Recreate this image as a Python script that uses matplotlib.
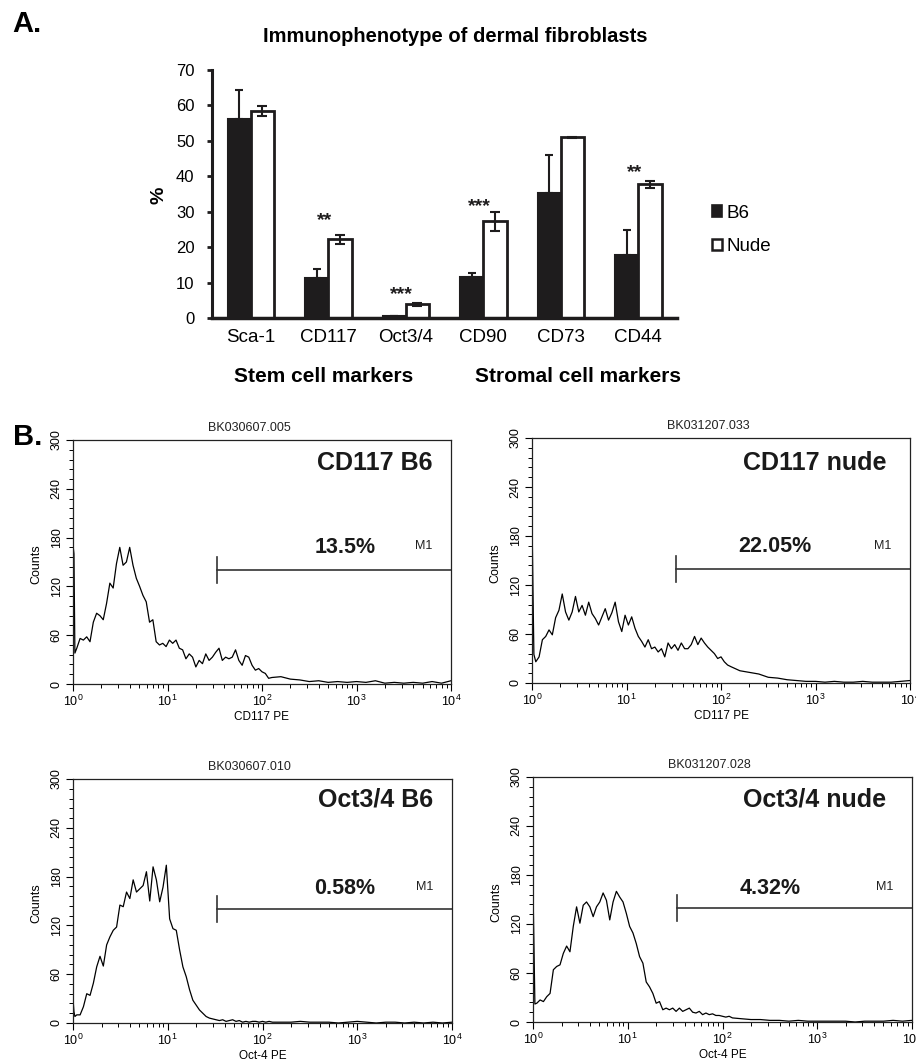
import numpy as np
import matplotlib
matplotlib.use("Agg")
import matplotlib.pyplot as plt
from matplotlib.patches import Patch
from matplotlib.ticker import MultipleLocator, LogLocator, NullFormatter

plt.rcParams["font.family"] = ["Liberation Sans", "DejaVu Sans"]
plt.rcParams["mathtext.default"] = "regular"

# ── A. IMMUNOPHENOTYPE BAR DATA ───────────────────────────────────────────────
markers = ["Sca-1", "CD117", "Oct3/4", "CD90", "CD73", "CD44"]
b6_mean = [56.1, 11.3, 0.5, 11.5, 35.2, 17.7]
b6_err = [8.2, 2.4, 0.1, 1.2, 10.8, 7.1]
nude_mean = [58.4, 22.2, 3.9, 27.3, 51.0, 37.7]
nude_err = [1.5, 1.3, 0.4, 2.7, 0.1, 1.1]
sig_idx = [1, 2, 3, 5]
sig_text = ["**", "***", "***", "**"]
sig_y = [29.3, 8.6, 33.2, 43.0]

# ── B. FLOW HISTOGRAMS (log10 channel, counts) ────────────────────────────────
log_channel = [0.0, 0.01, 0.02,
               0.04, 0.075, 0.11, 0.145, 0.18, 0.215, 0.25, 0.285, 0.32, 0.355,
               0.39, 0.425, 0.46, 0.495, 0.53, 0.565, 0.60, 0.635, 0.67, 0.705,
               0.74, 0.775, 0.81, 0.845, 0.88, 0.915, 0.95, 0.985, 1.02, 1.055,
               1.09, 1.125, 1.16, 1.195, 1.23, 1.265, 1.30, 1.335, 1.37, 1.405,
               1.44, 1.475, 1.51, 1.545, 1.58, 1.615, 1.65, 1.685, 1.72, 1.755,
               1.79, 1.825, 1.86, 1.895, 1.93, 1.965, 2.00, 2.035, 2.07, 2.105,
               2.2, 2.3, 2.4, 2.5, 2.6, 2.7, 2.8, 2.9, 3.0, 3.1,
               3.2, 3.3, 3.4, 3.5, 3.6, 3.7, 3.8, 3.9, 4.0]

cd117_b6 = [171, 160, 38,
            44, 56, 54, 58, 52, 76, 87, 84, 79, 99,
            124, 118, 148, 168, 146, 150, 168, 146, 130, 120,
            109, 101, 76, 79, 52, 48, 50, 46, 54, 50,
            54, 44, 42, 31, 37, 33, 21, 29, 25, 37,
            29, 33, 39, 44, 29, 33, 31, 33, 42, 29,
            23, 35, 33, 23, 17, 19, 15, 13, 7, 8,
            9, 6, 5, 3, 4, 2, 3, 2, 3, 2,
            4, 1, 2, 1, 2, 1, 3, 1, 4]

cd117_nude = [204, 116, 35,
              26, 32, 53, 57, 65, 59, 80, 89, 109, 87,
              77, 87, 106, 87, 95, 83, 99, 85, 79, 71,
              81, 91, 77, 86, 99, 75, 63, 83, 71, 81,
              67, 57, 51, 44, 53, 42, 44, 38, 42, 32,
              49, 42, 47, 40, 49, 42, 42, 47, 57, 47,
              55, 49, 44, 40, 36, 30, 32, 26, 22, 20,
              15, 13, 11, 7, 6, 4, 3, 2, 2, 1,
              2, 1, 1, 2, 1, 1, 1, 2, 3]

oct_b6 = [30, 14, 8,
          10, 10, 20, 36, 34, 49, 69, 82, 70, 96,
          106, 114, 118, 145, 143, 161, 153, 176, 161, 165,
          169, 186, 150, 192, 176, 149, 167, 194, 128, 116,
          114, 90, 69, 57, 41, 28, 22, 16, 12, 8,
          6, 5, 4, 3, 4, 2, 3, 4, 2, 3,
          1, 2, 1, 2, 2, 1, 2, 1, 2, 1,
          1, 1, 2, 1, 1, 1, 0, 1, 2, 1,
          0, 1, 1, 0, 1, 0, 1, 0, 1]

oct_nude = [164, 94, 22,
            23, 27, 25, 31, 35, 64, 68, 70, 84, 93,
            86, 117, 141, 121, 143, 147, 141, 129, 141, 147,
            158, 149, 125, 147, 160, 153, 147, 133, 117, 109,
            96, 80, 72, 49, 43, 35, 23, 25, 15, 17,
            15, 17, 13, 17, 13, 15, 17, 12, 11, 13,
            9, 11, 9, 10, 8, 8, 7, 6, 7, 5,
            4, 3, 3, 2, 2, 1, 2, 1, 1, 1,
            1, 1, 0, 1, 1, 1, 2, 1, 2]

hist_counts = [cd117_b6, cd117_nude, oct_b6, oct_nude]
file_ids = ["BK030607.005", "BK031207.033", "BK030607.010", "BK031207.028"]
sample_names = ["CD117 B6", "CD117 nude", "Oct3/4 B6", "Oct3/4 nude"]
gate_pct = ["13.5%", "22.05%", "0.58%", "4.32%"]
channel_names = ["CD117 PE", "CD117 PE", "Oct-4 PE", "Oct-4 PE"]
gate_log = 1.52
gate_count = 140

# ── LAYOUT ────────────────────────────────────────────────────────────────────
W, H = 916, 1064
fig = plt.figure(figsize=(W / 100, H / 100), dpi=100)


def px_axes(x0, y0, x1, y1):
    return fig.add_axes([x0 / W, 1 - y1 / H, (x1 - x0) / W, (y1 - y0) / H])


INK = "#1e1c1d"

# ── PANEL A ───────────────────────────────────────────────────────────────────
axA = px_axes(212, 70, 677, 318)
x = np.arange(len(markers))
w = 0.30
axA.bar(x - w / 2, b6_mean, w, color=INK, edgecolor=INK, lw=1.5, zorder=2)
axA.bar(x + w / 2, nude_mean, w, color="white", edgecolor=INK, lw=2.0, zorder=2)
axA.errorbar(x - w / 2, b6_mean, yerr=[np.zeros(len(b6_err)), b6_err], fmt="none",
             ecolor=INK, elinewidth=1.5, capsize=3, capthick=1.5, zorder=3)
axA.errorbar(x + w / 2, nude_mean, yerr=nude_err, fmt="none",
             ecolor=INK, elinewidth=1.5, capsize=3.5, capthick=1.5, zorder=3)
for i, t, yv in zip(sig_idx, sig_text, sig_y):
    axA.annotate(t, (x[i] - 0.05, yv), xytext=(0, -8), textcoords="offset points",
                 ha="center", va="baseline", fontsize=14, fontweight="bold", color=INK)

axA.set_xlim(-0.5, 5.5)
axA.set_ylim(0, 70)
axA.set_yticks(range(0, 71, 10))
axA.set_xticks(x)
axA.set_xticklabels(markers)
for s in ["top", "right"]:
    axA.spines[s].set_visible(False)
axA.spines["left"].set_linewidth(2.2)
axA.spines["bottom"].set_linewidth(2.5)
axA.spines["left"].set_color(INK)
axA.spines["bottom"].set_color(INK)
axA.tick_params(axis="y", length=3.6, width=2, labelsize=12, pad=9, color=INK)
axA.tick_params(axis="x", length=0, labelsize=13.5, pad=8)

fig.text(159 / W, 1 - 195 / H, "%", rotation=90, ha="center", va="center",
         fontsize=14, fontweight="bold")
fig.text(455 / W, 1 - 36 / H, "Immunophenotype of dermal fibroblasts",
         ha="center", va="center", fontsize=14.5, fontweight="bold")
fig.text(324 / W, 1 - 377 / H, "Stem cell markers", ha="center", va="center",
         fontsize=15, fontweight="bold")
fig.text(578 / W, 1 - 377 / H, "Stromal cell markers", ha="center", va="center",
         fontsize=15, fontweight="bold")
fig.text(12 / W, 1 - 24 / H, "A.", ha="left", va="center", fontsize=21, fontweight="bold")
fig.text(13 / W, 1 - 437 / H, "B.", ha="left", va="center", fontsize=21, fontweight="bold")

fig.legend(handles=[Patch(facecolor=INK, edgecolor=INK, lw=1.2),
                    Patch(facecolor="white", edgecolor=INK, lw=1.8)],
           labels=["B6", "Nude"], loc="center left",
           bbox_to_anchor=(712 / W, 1 - 230 / H), frameon=False, fontsize=13.5,
           handlelength=0.55, handleheight=0.55, handletextpad=0.25,
           labelspacing=0.9, borderpad=0, borderaxespad=0)

# ── PANEL B ───────────────────────────────────────────────────────────────────
hist_boxes = [(73, 440, 451, 684), (532, 438, 910, 683),
              (73, 779, 452, 1023), (533, 777, 912, 1022)]
name_pos = [(0.952, 0.906), (0.938, 0.899), (0.950, 0.918), (0.933, 0.909)]
pct_pos = [(0.640, 0.560), (0.545, 0.556), (0.636, 0.553), (0.544, 0.546)]
chan = 10 ** np.array(log_channel)

for k, box in enumerate(hist_boxes):
    ax = px_axes(*box)
    ax.plot(chan, hist_counts[k], color="black", lw=0.9)
    ax.plot([10 ** gate_log, 1e4], [gate_count, gate_count], color="#333333", lw=1.2)
    ax.plot([10 ** gate_log] * 2, [gate_count - 16, gate_count + 16], color="#333333", lw=1.2)

    ax.set_xscale("log")
    ax.set_xlim(1, 1e4)
    ax.set_ylim(0, 300)
    ax.set_yticks(range(0, 301, 60))
    ax.yaxis.set_minor_locator(MultipleLocator(12))
    ax.xaxis.set_minor_locator(LogLocator(base=10, subs="auto"))
    ax.xaxis.set_minor_formatter(NullFormatter())
    for s in ax.spines.values():
        s.set_linewidth(0.9)
        s.set_color("#222222")
    ax.tick_params(axis="y", which="major", length=5, width=0.8, labelsize=9,
                   pad=2.5, labelrotation=90)
    ax.tick_params(axis="y", which="minor", length=3, width=0.7)
    ax.tick_params(axis="x", which="major", length=5, width=0.8, labelsize=9, pad=2)
    ax.tick_params(axis="x", which="minor", length=3, width=0.7)
    for lab in ax.get_yticklabels():
        lab.set_va("center")

    ax.set_ylabel("Counts", fontsize=9)
    ax.yaxis.set_label_coords(-0.082, 0.49)
    ax.set_xlabel(channel_names[k], fontsize=8.5)
    ax.xaxis.label.set_va("center")
    ax.xaxis.set_label_coords(0.5, -0.135)

    ax.text(0.466, 1.05, file_ids[k], transform=ax.transAxes, ha="center",
            va="center", fontsize=9, color="#222222")
    ax.text(*name_pos[k], sample_names[k], transform=ax.transAxes, ha="right",
            va="center", fontsize=18, fontweight="bold", color="#1a1a1a")
    ax.text(*pct_pos[k], gate_pct[k], transform=ax.transAxes, ha="left",
            va="center", fontsize=15.5, fontweight="bold", color="#1a1a1a")
    ax.text(0.927, pct_pos[k][1] + 0.005, "M1", transform=ax.transAxes, ha="center",
            va="center", fontsize=9, color="#222222")

fig.savefig("out.png", dpi=100)
